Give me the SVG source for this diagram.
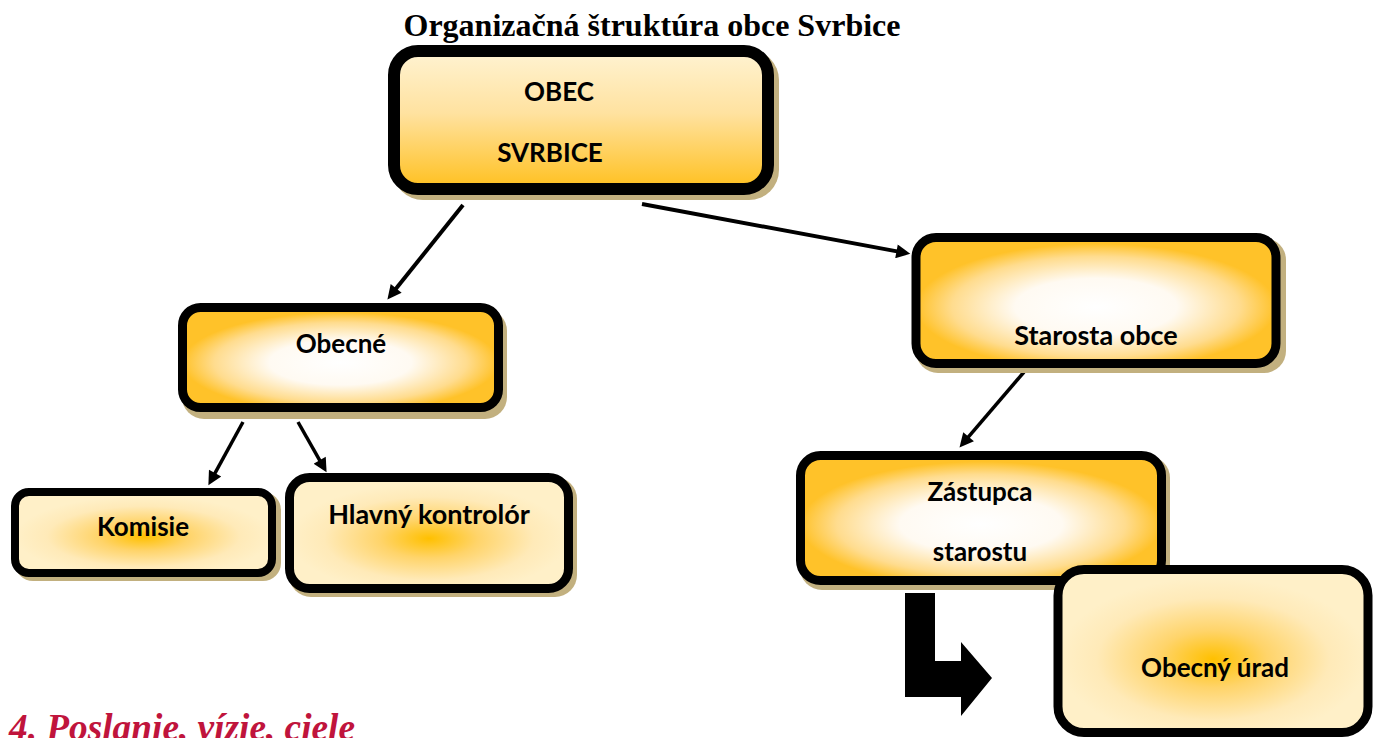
<svg xmlns="http://www.w3.org/2000/svg" width="1375" height="738" viewBox="0 0 1375 738">
<style>
.box{stroke:#000;}
.sh{fill:#c2b07f;}
.lbl{font-family:Lato,"Open Sans",sans-serif;font-weight:bold;font-size:26px;fill:#000;text-anchor:middle;}
.title{font-family:"Liberation Serif","Times New Roman",serif;font-weight:bold;font-size:32px;fill:#000;text-anchor:middle;}
.head{font-family:"Liberation Serif","Times New Roman",serif;font-weight:bold;font-style:italic;font-size:37px;fill:#c0143c;}
.con{stroke:#000;fill:none;}
</style>
<defs>
<linearGradient id="gLin" x1="0" y1="0" x2="0" y2="1">
<stop offset="0" stop-color="#fff3d2"/>
<stop offset="0.45" stop-color="#ffe2a0"/>
<stop offset="1" stop-color="#ffc01e"/>
</linearGradient>
<radialGradient id="gWhite" cx="0.5" cy="0.55" r="0.5">
<stop offset="0" stop-color="#ffffff"/>
<stop offset="0.45" stop-color="#fffaf2"/>
<stop offset="0.8" stop-color="#ffdc8e"/>
<stop offset="1" stop-color="#ffc229"/>
</radialGradient>
<radialGradient id="gOrange" cx="0.5" cy="0.55" r="0.5">
<stop offset="0" stop-color="#ffc000"/>
<stop offset="0.35" stop-color="#ffd46a"/>
<stop offset="0.75" stop-color="#ffeab8"/>
<stop offset="1" stop-color="#fff0c8"/>
</radialGradient>
<marker id="ah" markerUnits="userSpaceOnUse" markerWidth="16" markerHeight="14" viewBox="0 0 10 10" refX="6.25" refY="5" orient="auto">
<path d="M0,0 L10,5 L0,10 z" fill="#000"/>
</marker>
</defs>
<rect width="1375" height="738" fill="#fff"/>

<text class="title" x="652" y="36" textLength="497" lengthAdjust="spacingAndGlyphs">Organizačná štruktúra obce Svrbice</text>

<g id="connectors">
<line class="con" stroke-width="4" x1="463" y1="205" x2="390.7" y2="295.3" marker-end="url(#ah)"/>
<line class="con" stroke-width="4" x1="642" y1="204" x2="905.1" y2="252.9" marker-end="url(#ah)"/>
<line class="con" stroke-width="3.5" x1="243" y1="422" x2="210.9" y2="480.7" marker-end="url(#ah)"/>
<line class="con" stroke-width="3.5" x1="298" y1="422" x2="324" y2="467.8" marker-end="url(#ah)"/>
<line class="con" stroke-width="3.5" x1="1024" y1="372" x2="962.9" y2="443.4" marker-end="url(#ah)"/>
<polygon points="905,593 935,593 935,661 961,661 961,642 992,678 961,716 961,697 905,697" fill="#000"/>
</g>

<g id="obec">
<rect class="sh" x="393" y="50" width="386" height="150" rx="30"/>
<rect class="box" x="394" y="51" width="374" height="138" rx="24" fill="url(#gLin)" stroke-width="12"/>
<text class="lbl" x="559" y="101">OBEC</text>
<text class="lbl" x="550" y="162">SVRBICE</text>
</g>

<g id="obecne">
<rect class="sh" x="182" y="309" width="325" height="110" rx="22"/>
<rect class="box" x="182.5" y="307.5" width="316" height="100" rx="18" fill="url(#gWhite)" stroke-width="9"/>
<text class="lbl" x="341" y="353">Obecné</text>
</g>

<g id="komisie">
<rect class="sh" x="15" y="492" width="266" height="89" rx="18"/>
<rect class="box" x="15" y="492" width="257" height="81" rx="14" fill="url(#gOrange)" stroke-width="8"/>
<text class="lbl" x="143" y="536">Komisie</text>
</g>

<g id="kontrolor">
<rect class="sh" x="289" y="477" width="288" height="120" rx="22"/>
<rect class="box" x="289.5" y="477.5" width="279" height="111" rx="20" fill="url(#gOrange)" stroke-width="9"/>
<text class="lbl" x="429" y="524" style="font-size:27px">Hlavný kontrolór</text>
</g>

<g id="starosta">
<rect class="sh" x="916" y="238" width="370" height="135" rx="22"/>
<rect class="box" x="916" y="237.5" width="360" height="126" rx="20" fill="url(#gWhite)" stroke-width="9"/>
<text class="lbl" x="1096" y="345" style="font-size:27px">Starosta obce</text>
</g>

<g id="zastupca">
<rect class="sh" x="800" y="456" width="370" height="134" rx="22"/>
<rect class="box" x="800.5" y="455.5" width="361" height="125" rx="20" fill="url(#gWhite)" stroke-width="9"/>
<text class="lbl" x="980" y="501">Zástupca</text>
<text class="lbl" x="980" y="561">starostu</text>
</g>

<g id="urad">
<rect class="box" x="1058" y="569.5" width="310" height="163" rx="26" fill="url(#gOrange)" stroke-width="9"/>
<text class="lbl" x="1215" y="677">Obecný úrad</text>
</g>

<text class="head" x="9" y="740" textLength="346" lengthAdjust="spacingAndGlyphs">4. Poslanie, vízie, ciele</text>
</svg>
